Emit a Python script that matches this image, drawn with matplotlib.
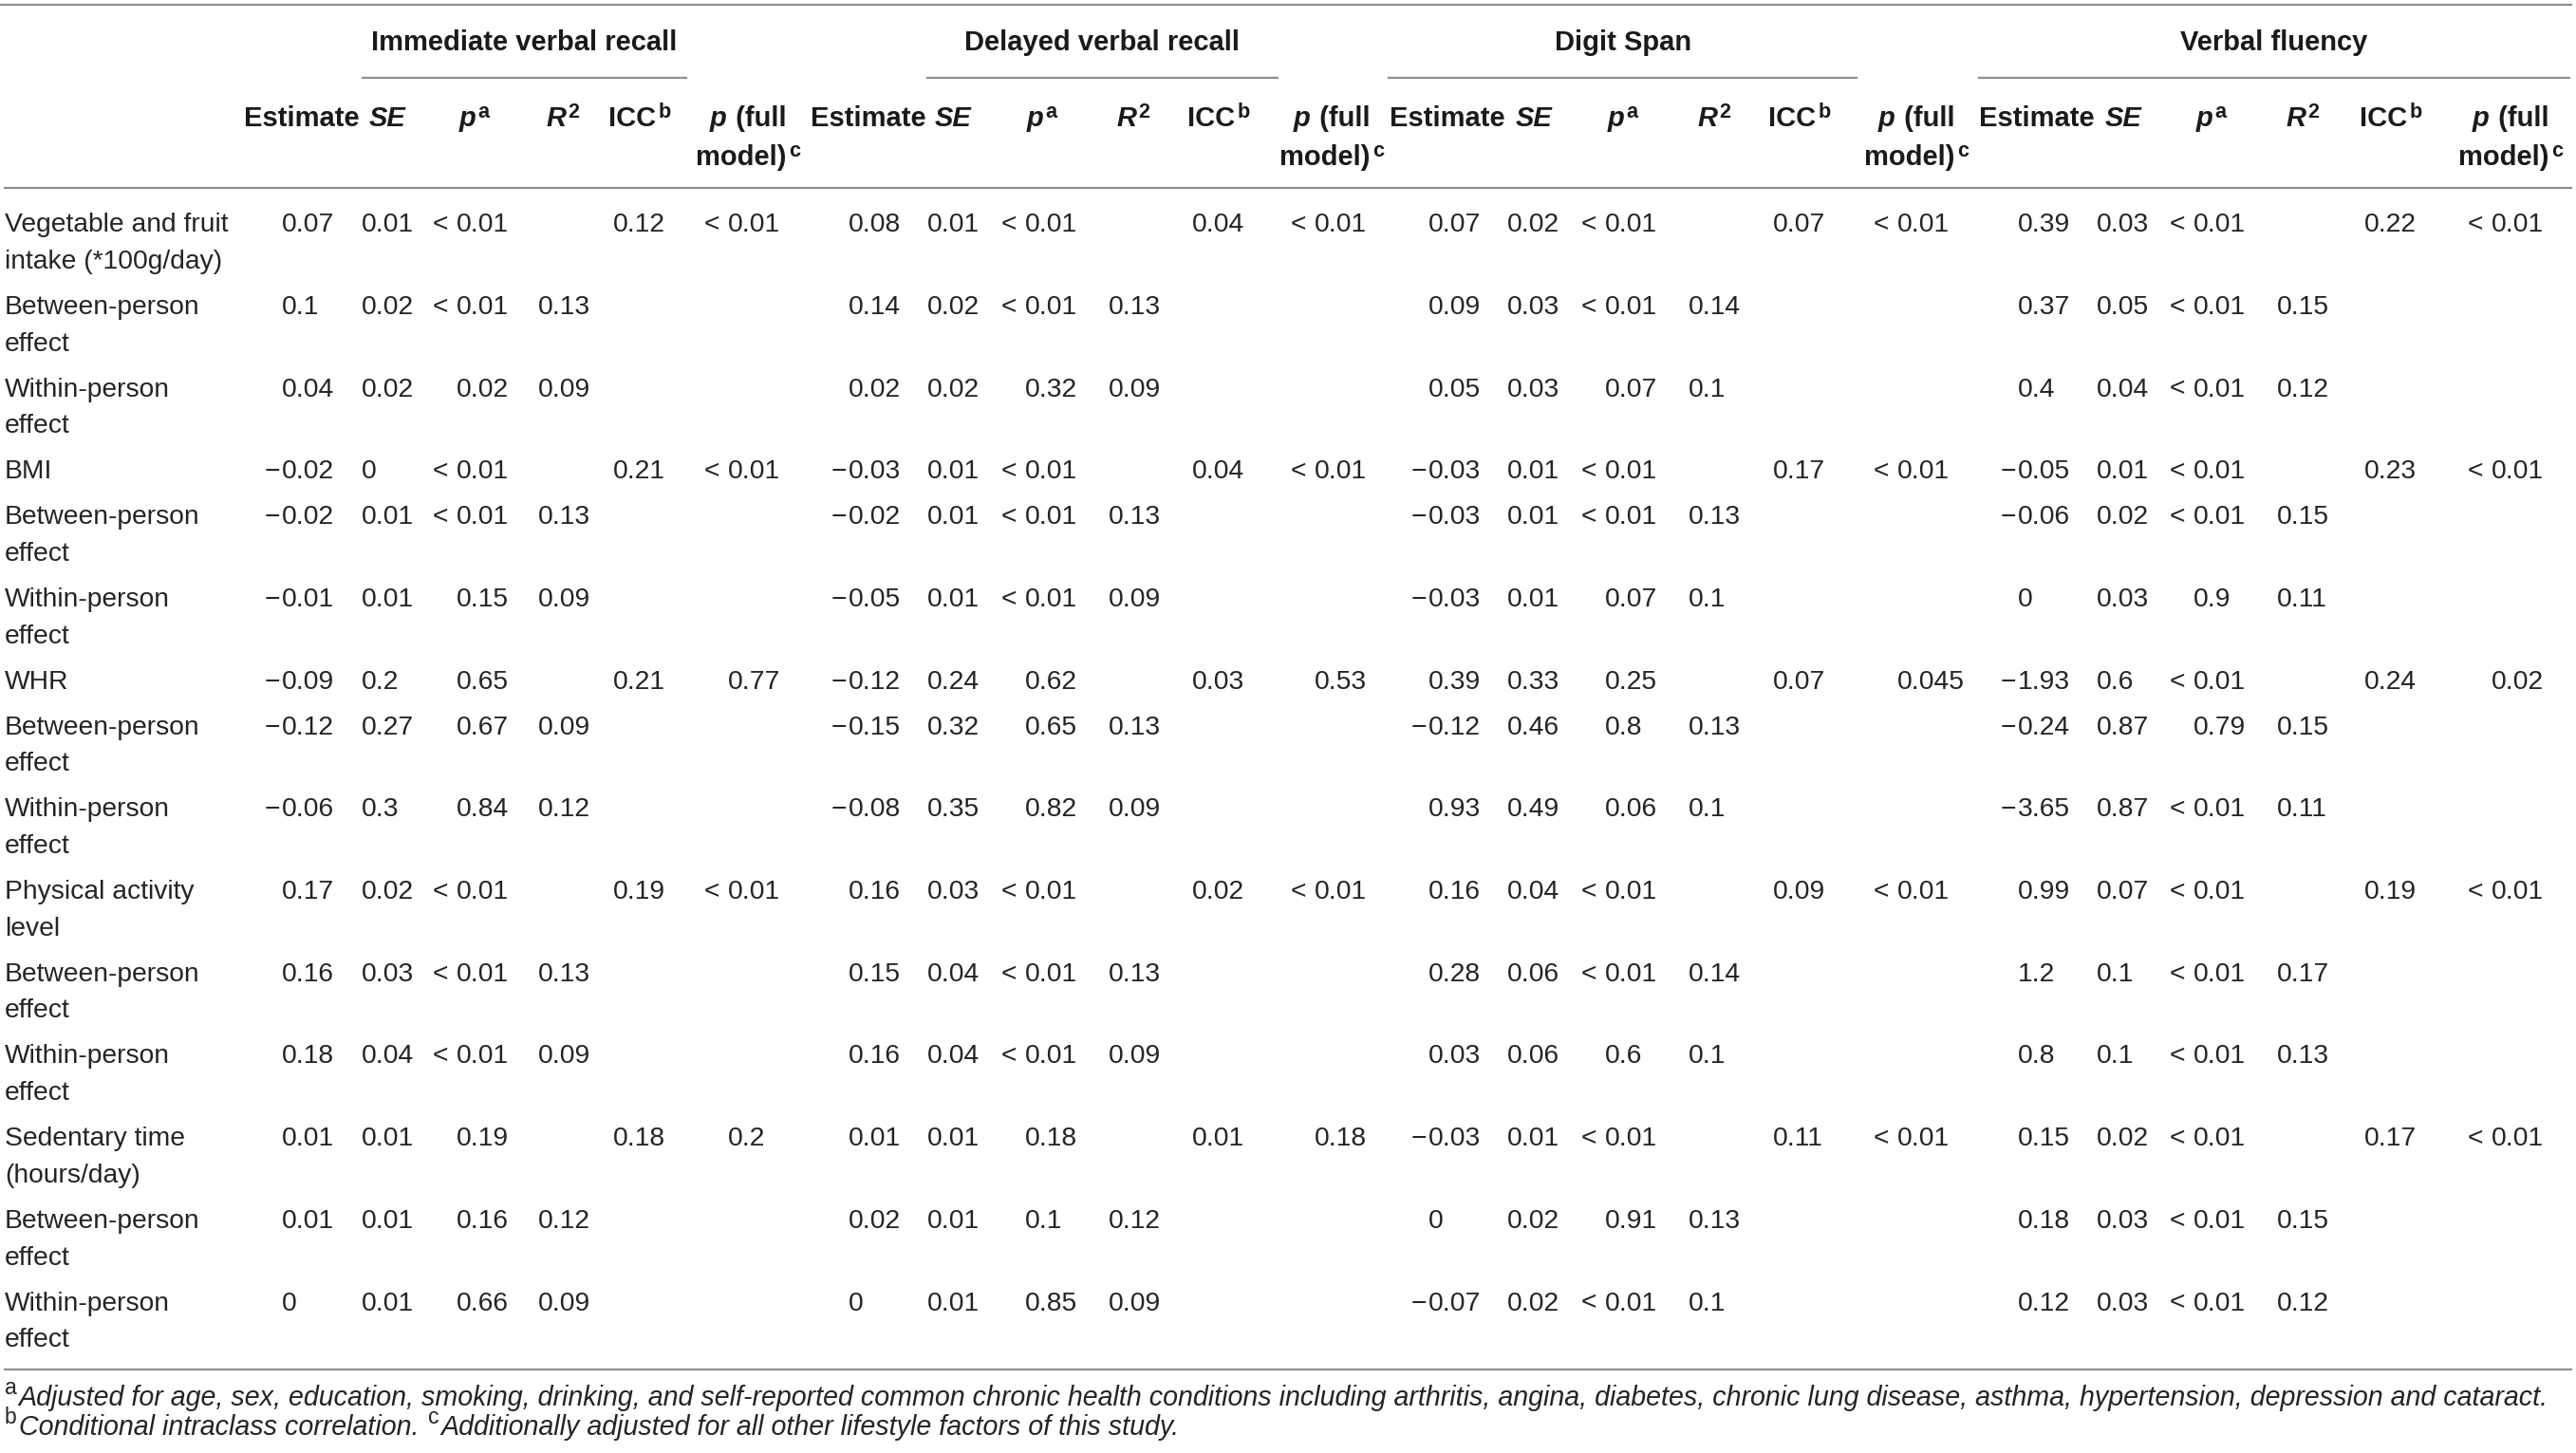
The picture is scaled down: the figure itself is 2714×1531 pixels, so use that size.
import matplotlib.pyplot as plt

FONT = 'Liberation Sans'
plt.rcParams['font.family'] = [FONT, 'DejaVu Sans']

groups = ['Immediate verbal recall', 'Delayed verbal recall', 'Digit Span', 'Verbal fluency']

row_labels = [
    ['Vegetable and fruit', 'intake (*100g/day)'],
    ['Between-person', 'effect'],
    ['Within-person', 'effect'],
    ['BMI'],
    ['Between-person', 'effect'],
    ['Within-person', 'effect'],
    ['WHR'],
    ['Between-person', 'effect'],
    ['Within-person', 'effect'],
    ['Physical activity', 'level'],
    ['Between-person', 'effect'],
    ['Within-person', 'effect'],
    ['Sedentary time', '(hours/day)'],
    ['Between-person', 'effect'],
    ['Within-person', 'effect'],
]

# Immediate verbal recall
imm_est = ['0.07', '0.1', '0.04', '−0.02', '−0.02', '−0.01', '−0.09', '−0.12', '−0.06',
           '0.17', '0.16', '0.18', '0.01', '0.01', '0']
imm_se = ['0.01', '0.02', '0.02', '0', '0.01', '0.01', '0.2', '0.27', '0.3',
          '0.02', '0.03', '0.04', '0.01', '0.01', '0.01']
imm_p = ['< 0.01', '< 0.01', '0.02', '< 0.01', '< 0.01', '0.15', '0.65', '0.67', '0.84',
         '< 0.01', '< 0.01', '< 0.01', '0.19', '0.16', '0.66']
imm_r2 = ['', '0.13', '0.09', '', '0.13', '0.09', '', '0.09', '0.12',
          '', '0.13', '0.09', '', '0.12', '0.09']
imm_icc = ['0.12', '', '', '0.21', '', '', '0.21', '', '', '0.19', '', '', '0.18', '', '']
imm_pfull = ['< 0.01', '', '', '< 0.01', '', '', '0.77', '', '', '< 0.01', '', '', '0.2', '', '']

# Delayed verbal recall
del_est = ['0.08', '0.14', '0.02', '−0.03', '−0.02', '−0.05', '−0.12', '−0.15', '−0.08',
           '0.16', '0.15', '0.16', '0.01', '0.02', '0']
del_se = ['0.01', '0.02', '0.02', '0.01', '0.01', '0.01', '0.24', '0.32', '0.35',
          '0.03', '0.04', '0.04', '0.01', '0.01', '0.01']
del_p = ['< 0.01', '< 0.01', '0.32', '< 0.01', '< 0.01', '< 0.01', '0.62', '0.65', '0.82',
         '< 0.01', '< 0.01', '< 0.01', '0.18', '0.1', '0.85']
del_r2 = ['', '0.13', '0.09', '', '0.13', '0.09', '', '0.13', '0.09',
          '', '0.13', '0.09', '', '0.12', '0.09']
del_icc = ['0.04', '', '', '0.04', '', '', '0.03', '', '', '0.02', '', '', '0.01', '', '']
del_pfull = ['< 0.01', '', '', '< 0.01', '', '', '0.53', '', '', '< 0.01', '', '', '0.18', '', '']

# Digit Span
dig_est = ['0.07', '0.09', '0.05', '−0.03', '−0.03', '−0.03', '0.39', '−0.12', '0.93',
           '0.16', '0.28', '0.03', '−0.03', '0', '−0.07']
dig_se = ['0.02', '0.03', '0.03', '0.01', '0.01', '0.01', '0.33', '0.46', '0.49',
          '0.04', '0.06', '0.06', '0.01', '0.02', '0.02']
dig_p = ['< 0.01', '< 0.01', '0.07', '< 0.01', '< 0.01', '0.07', '0.25', '0.8', '0.06',
         '< 0.01', '< 0.01', '0.6', '< 0.01', '0.91', '< 0.01']
dig_r2 = ['', '0.14', '0.1', '', '0.13', '0.1', '', '0.13', '0.1',
          '', '0.14', '0.1', '', '0.13', '0.1']
dig_icc = ['0.07', '', '', '0.17', '', '', '0.07', '', '', '0.09', '', '', '0.11', '', '']
dig_pfull = ['< 0.01', '', '', '< 0.01', '', '', '0.045', '', '', '< 0.01', '', '', '< 0.01', '', '']

# Verbal fluency
vf_est = ['0.39', '0.37', '0.4', '−0.05', '−0.06', '0', '−1.93', '−0.24', '−3.65',
          '0.99', '1.2', '0.8', '0.15', '0.18', '0.12']
vf_se = ['0.03', '0.05', '0.04', '0.01', '0.02', '0.03', '0.6', '0.87', '0.87',
         '0.07', '0.1', '0.1', '0.02', '0.03', '0.03']
vf_p = ['< 0.01', '< 0.01', '< 0.01', '< 0.01', '< 0.01', '0.9', '< 0.01', '0.79', '< 0.01',
        '< 0.01', '< 0.01', '< 0.01', '< 0.01', '< 0.01', '< 0.01']
vf_r2 = ['', '0.15', '0.12', '', '0.15', '0.11', '', '0.15', '0.11',
         '', '0.17', '0.13', '', '0.15', '0.12']
vf_icc = ['0.22', '', '', '0.23', '', '', '0.24', '', '', '0.19', '', '', '0.17', '', '']
vf_pfull = ['< 0.01', '', '', '< 0.01', '', '', '0.02', '', '', '< 0.01', '', '', '< 0.01', '', '']

group_cols = [
    [imm_est, imm_se, imm_p, imm_r2, imm_icc, imm_pfull],
    [del_est, del_se, del_p, del_r2, del_icc, del_pfull],
    [dig_est, dig_se, dig_p, dig_r2, dig_icc, dig_pfull],
    [vf_est, vf_se, vf_p, vf_r2, vf_icc, vf_pfull],
]

footnote_a = ('Adjusted for age, sex, education, smoking, drinking, and self-reported common chronic '
              'health conditions including arthritis, angina, diabetes, chronic lung disease, asthma, '
              'hypertension, depression and cataract.')
footnote_b = 'Conditional intraclass correlation. '
footnote_c = 'Additionally adjusted for all other lifestyle factors of this study.'

# ---- layout (pixels) ----
W, H = 2714, 1531
FS = 20.3
HFS = FS * 1.035
TXT = '#242424'
HTXT = '#1a1a1a'
RULE = '#8f8f8f'

val_x = [[297, 381, 481, 567, 646, 767],
         [894, 977, 1080, 1168, 1256, 1385],
         [1505, 1588, 1691, 1779, 1868, 1999],
         [2126, 2209, 2311, 2399, 2491, 2625]]
hdr_x = [[318, 408, 500, 593, 674, 788],
         [915, 1004, 1098, 1194, 1284, 1403],
         [1525, 1616, 1710, 1806, 1896, 2019],
         [2146, 2237, 2330, 2426, 2519, 2645]]
grp_x = [552, 1161, 1710, 2396]
grp_line = [(382, 723), (977, 1346), (1463, 1956), (2085, 2707)]

fig = plt.figure(figsize=(W / 100, H / 100), dpi=100)
ax = fig.add_axes([0, 0, 1, 1])
ax.set_xlim(0, W)
ax.set_ylim(H, 0)
ax.axis('off')
renderer = fig.canvas.get_renderer()


def px(size):
    return size * 100 / 72


def base(yc, size=FS):
    return yc + 0.36 * px(size)


def runs(x, yc, parts, ha='left', size=FS, color=TXT, sup_scale=0.74, sup_raise=0.30):
    # parts: (text, weight, style, superscript)
    arts = []
    for s, w, st, sup in parts:
        fs = size * sup_scale if sup else size
        t = ax.text(0, 0, s, fontsize=fs, fontweight=w, fontstyle=st,
                    ha='left', va='baseline', color=color)
        arts.append((t, sup))
    widths = [t.get_window_extent(renderer).width for t, _ in arts]
    total = sum(widths) + 2 * (len(widths) - 1)
    cx = x - total / 2 if ha == 'center' else x
    b = base(yc, size)
    for (t, sup), w in zip(arts, widths):
        t.set_position((cx, b - sup_raise * px(size) if sup else b))
        cx += w + 2
    return cx


def put_value(x, yc, s):
    if s == '':
        return
    b = base(yc)
    if s.startswith('<'):
        ax.text(x - 9, b, '<', fontsize=FS, ha='right', va='baseline', color=TXT)
        s = s[1:].strip()
    elif s.startswith('−'):
        ax.text(x - 2, b, '−', fontsize=FS, ha='right', va='baseline', color=TXT)
        s = s[1:]
    ax.text(x, b, s, fontsize=FS, ha='left', va='baseline', color=TXT)


# rules
ax.plot([0, 2709], [5, 5], color=RULE, lw=1.6)
ax.plot([5, 2709], [198, 198], color=RULE, lw=1.6)
ax.plot([5, 2709], [1443, 1443], color=RULE, lw=1.6)
for (x0, x1) in grp_line:
    ax.plot([x0, x1], [82, 82], color=RULE, lw=1.6)

# group headers
for g, gx in zip(groups, grp_x):
    runs(gx, 42, [(g, 'bold', 'normal', False)], ha='center', size=HFS, color=HTXT)

# sub headers
for gi in range(4):
    hx = hdr_x[gi]
    kw = dict(ha='center', size=HFS, color=HTXT)
    runs(hx[0], 122, [('Estimate', 'bold', 'normal', False)], **kw)
    runs(hx[1], 122, [('SE', 'bold', 'italic', False)], **kw)
    runs(hx[2], 122, [('p', 'bold', 'italic', False), ('a', 'bold', 'normal', True)], **kw)
    runs(hx[3], 122, [('R', 'bold', 'italic', False), ('2', 'bold', 'normal', True)], **kw)
    runs(hx[4], 122, [('ICC', 'bold', 'normal', False), ('b', 'bold', 'normal', True)], **kw)
    runs(hx[5], 122, [('p', 'bold', 'italic', False), (' (full', 'bold', 'normal', False)], **kw)
    runs(hx[5], 163, [('model)', 'bold', 'normal', False), ('c', 'bold', 'normal', True)], **kw)

# body rows
LINE = 38.7
y = 234
for ri, lab in enumerate(row_labels):
    for li, line in enumerate(lab):
        ax.text(5, base(y + li * LINE), line, fontsize=FS, ha='left', va='baseline', color=TXT)
    for gi in range(4):
        for ci in range(6):
            put_value(val_x[gi][ci], y, group_cols[gi][ci][ri])
    y += 48 + LINE * (len(lab) - 1)

# footnotes: fit the long line to the table width
fn = ax.text(0, 0, footnote_a, fontsize=FS, fontstyle='italic', va='baseline')
fw = fn.get_window_extent(renderer).width
fn.remove()
FFS = FS * 2672 / fw
fkw = dict(size=FFS, sup_scale=0.8, sup_raise=0.42)
runs(5, 1471, [('a', 'normal', 'normal', True), (footnote_a, 'normal', 'italic', False)], **fkw)
runs(5, 1502, [('b', 'normal', 'normal', True), (footnote_b, 'normal', 'italic', False),
               ('c', 'normal', 'normal', True), (footnote_c, 'normal', 'italic', False)], **fkw)

fig.savefig('out.png', dpi=100)
